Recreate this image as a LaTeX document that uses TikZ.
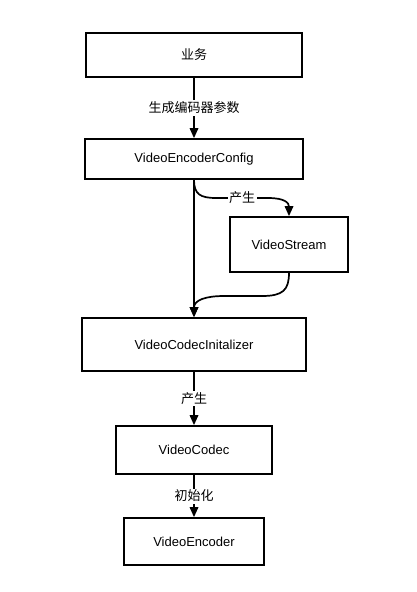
\documentclass[tikz,border=0pt]{standalone}
\usepackage{fontspec}
\setmainfont{Liberation Sans}
\newfontfamily\cjk{Noto Sans CJK SC}
\usetikzlibrary{arrows.meta}
\begin{document}
\begin{tikzpicture}[x=1pt,y=-1pt,
  box/.style={draw=black,line width=1.7pt,fill=white,inner sep=0pt,font=\fontsize{13}{15}\selectfont},
  conn/.style={line width=1.7pt,-{Triangle[length=10pt,width=8.5pt]}},
  lbl/.style={fill=white,inner sep=1.5pt,font=\fontsize{13}{15}\selectfont\cjk}]
\useasboundingbox (0,0) rectangle (416,592);
\node[box,minimum width=216pt,minimum height=44pt] (biz) at (194,55) {\cjk 业务};
\node[box,minimum width=218pt,minimum height=40pt] (cfg) at (194,159) {VideoEncoderConfig};
\node[box,minimum width=118pt,minimum height=55pt] (stream) at (289,244.5) {VideoStream};
\node[box,minimum width=224pt,minimum height=53pt] (init) at (194,344.5) {VideoCodecInitalizer};
\node[box,minimum width=156pt,minimum height=48pt] (codec) at (194,450) {VideoCodec};
\node[box,minimum width=140pt,minimum height=47pt] (enc) at (194,541.5) {VideoEncoder};
\coordinate (a1) at (216,198);
\coordinate (a2) at (268,198);
\coordinate (b1) at (262,296);
\coordinate (b2) at (224,296);
\draw[conn] (biz) -- node[lbl] {生成编码器参数} (cfg);
\draw[conn] (cfg.south) -- (init.north);
\draw[conn] (cfg.south) .. controls (194,194) and (200,198) .. (a1) -- node[lbl,pos=0.5] {产生} (a2) .. controls (285,198) and (289,203) .. (stream.north);
\draw[conn] (stream.south) .. controls (289,290) and (283,296) .. (b1) -- (b2) .. controls (206,296) and (194,300) .. (init.north);
\draw[conn] (init) -- node[lbl] {产生} (codec);
\draw[conn] (codec) -- node[lbl] {初始化} (enc);
\end{tikzpicture}
\end{document}
